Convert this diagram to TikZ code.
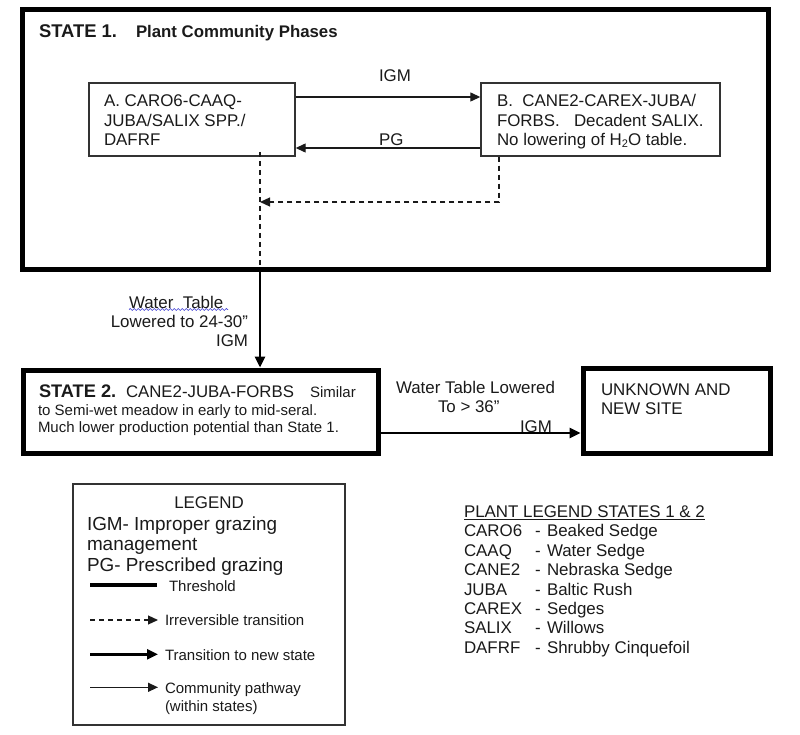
\documentclass[tikz,border=0pt]{standalone}
\usepackage{fontspec}
\setmainfont{Liberation Sans}
\usetikzlibrary{arrows.meta,decorations.pathmorphing}
\definecolor{ink}{HTML}{1A1A1A}
\definecolor{boxline}{HTML}{333333}
\definecolor{spell}{HTML}{3A3AD0}
\tikzset{
  lbl/.style={anchor=base west,inner sep=0pt,outer sep=0pt,text=ink},
  lble/.style={anchor=base east,inner sep=0pt,outer sep=0pt,text=ink},
  f17/.style={font=\fontsize{16.9}{20}\selectfont},
  f15/.style={font=\fontsize{15}{18}\selectfont},
  f19/.style={font=\fontsize{18.9}{22}\selectfont},
  statebox/.style={draw=black,line width=5pt,inner sep=0pt},
  phase/.style={draw=boxline,line width=1.4pt,inner sep=0pt},
  pathway/.style={draw=ink,line width=1.3pt,-{Triangle[length=10pt,width=9pt]}},
  newstate/.style={draw=black,line width=2.6pt,-{Triangle[length=11pt,width=10pt]}},
  irrev/.style={draw=ink,line width=1.2pt,dash pattern=on 5pt off 4pt},
  irrevarrow/.style={irrev,-{Triangle[length=10pt,width=9pt]}},
  threshold/.style={draw=black,line width=4pt}
}
\begin{document}
\begin{tikzpicture}[x=1pt,y=-1pt]
\useasboundingbox (0,0) rectangle (800,735);

% ---------- STATE 1 ----------
\node[statebox,minimum width=746pt,minimum height=260.5pt] (S1) at (395,139.75) {};
\node[lbl,font=\bfseries\fontsize{18.4}{22}\selectfont] (t1a) at (39,37.3) {STATE 1.};
\node[lbl,font=\bfseries\fontsize{16.8}{20}\selectfont] (t1b) at (136,37.3) {Plant Community Phases};

\node[phase,minimum width=206pt,minimum height=73pt] (A) at (192,119.5) {};
\node[lbl,f17] (a1) at (104,106.5) {A. CARO6-CAAQ-};
\node[lbl,f17] (a2) at (104,126.5) {JUBA/SALIX SPP./};
\node[lbl,f17] (a3) at (104,146) {DAFRF};

\node[phase,minimum width=239pt,minimum height=73pt] (B) at (600.5,119.5) {};
\node[lbl,f17] (b1) at (497,106.5) {B.\ \ CANE2-CAREX-JUBA/};
\node[lbl,f17] (b2) at (497,126.5) {FORBS.\ \ \ Decadent SALIX.};
\node[lbl,f17] (b3) at (497,146) {No lowering of H\raisebox{-1.5pt}{\fontsize{11}{11}\selectfont 2}O table.};

\coordinate (igm) at (0,97);
\coordinate (pg) at (0,148);
\draw[pathway] (A.east |- igm) -- (B.west |- igm);
\draw[pathway] (B.west |- pg) -- (A.east |- pg);
\node[lbl,f17] (ligm) at (379,81.5) {IGM};
\node[lbl,f17] (lpg) at (379,145.5) {PG};

\coordinate (d1) at (499,0);
\coordinate (d2) at (260,202);
\coordinate (dtop) at (260,152);
\coordinate (dbot) at (260,268);
\draw[irrevarrow] (B.south -| d1) |- (d2);
\draw[irrev] (dtop) -- (dbot);

% ---------- transition to STATE 2 ----------
\node[statebox,minimum width=355pt,minimum height=83.5pt] (S2) at (200.5,411.75) {};
\coordinate (vx) at (260,0);
\draw[newstate] (S1.south -| vx) -- (S2.north -| vx);
\node[lbl,f17] (w1) at (129,308.3) {Water\ \ Table};
\draw[spell,line width=0.7pt,decorate,decoration={snake,amplitude=1pt,segment length=4pt}] (129,309.5) -- (228,309.5);
\node[lble,f17] (w2) at (248,327.3) {Lowered to 24-30”};
\node[lble,f17] (w3) at (248,346.7) {IGM};

\node[lbl,font=\bfseries\fontsize{18.2}{22}\selectfont] (s2a) at (39,397.3) {STATE 2.};
\node[lbl,font=\fontsize{16.8}{20}\selectfont] (s2b) at (126,397.3) {CANE2-JUBA-FORBS};
\node[lbl,f15] (s2c) at (310,397.3) {Similar};
\node[lbl,f15] (s2d) at (38,415) {to Semi-wet meadow in early to mid-seral.};
\node[lbl,f15] (s2e) at (38,432.3) {Much lower production potential than State 1.};

% ---------- UNKNOWN ----------
\node[statebox,minimum width=187pt,minimum height=85pt] (U) at (676.5,410.5) {};
\node[lbl,f17] (u1) at (601,395) {UNKNOWN AND};
\node[lbl,f17] (u2) at (601,414) {NEW SITE};
\coordinate (hy) at (0,433);
\draw[newstate] (S2.east |- hy) -- (U.west |- hy);
\node[lbl,f17] (x1) at (396,393.3) {Water Table Lowered};
\node[lbl,f17] (x2) at (438,412.3) {To > 36”};
\node[lbl,f17] (x3) at (520,432.3) {IGM};

% ---------- LEGEND ----------
\node[draw=boxline,line width=1.2pt,minimum width=272pt,minimum height=241pt,inner sep=0pt] (L) at (209,604.5) {};
\node[anchor=base,inner sep=0pt,text=ink,f17] (lg) at (209,508.3) {LEGEND};
\node[lbl,f19] (lg1) at (87,530) {IGM- Improper grazing};
\node[lbl,f19] (lg2) at (87,550.8) {management};
\node[lbl,f19] (lg3) at (87,571.7) {PG- Prescribed grazing};

\coordinate (th1) at (90,585);   \coordinate (th2) at (157,585);
\draw[threshold] (th1) -- (th2);
\node[lbl,f15] (lt) at (169,591.7) {Threshold};

\coordinate (ir1) at (90,620);   \coordinate (ir2) at (158,620);
\draw[irrevarrow] (ir1) -- (ir2);
\node[lbl,f15] (li) at (165,625.7) {Irreversible transition};

\coordinate (ns1) at (90,654.3); \coordinate (ns2) at (158,654.3);
\draw[newstate] (ns1) -- (ns2);
\node[lbl,f15] (ln) at (165,660) {Transition to new state};

\coordinate (cp1) at (90,687.3); \coordinate (cp2) at (158,687.3);
\draw[pathway] (cp1) -- (cp2);
\node[lbl,f15] (lc1) at (165,693.3) {Community pathway};
\node[lbl,f15] (lc2) at (165,711) {(within states)};

% ---------- PLANT LEGEND ----------
\node[lbl,f17] (ph) at (464,517.7) {PLANT LEGEND STATES 1 \& 2};
\draw[ink,line width=0.9pt] ([yshift=-1.8pt]ph.base west) -- ([yshift=-1.8pt]ph.base east);
\foreach \c/\n [count=\i] in {CARO6/Beaked Sedge,CAAQ/Water Sedge,CANE2/Nebraska Sedge,JUBA/Baltic Rush,CAREX/Sedges,SALIX/Willows,DAFRF/Shrubby Cinquefoil}{
  \node[lbl,f17] (pc\i) at (464,{517.3+19.43*\i}) {\c};
  \node[lbl,f17] (pd\i) at (535,{517.3+19.43*\i}) {-};
  \node[lbl,f17] (pn\i) at (547,{517.3+19.43*\i}) {\n};
}
\end{tikzpicture}
\end{document}
